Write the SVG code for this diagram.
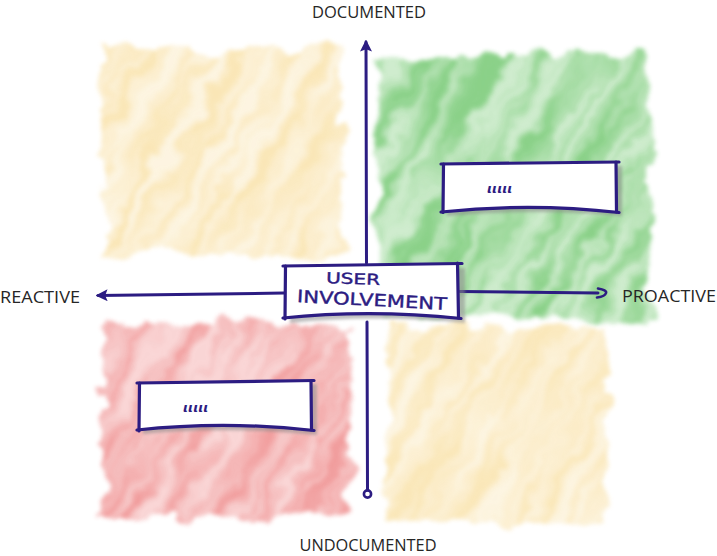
<svg xmlns="http://www.w3.org/2000/svg" width="717" height="556" viewBox="0 0 717 556">
  <defs>
    <filter id="edge" x="-15%" y="-15%" width="130%" height="130%">
      <feTurbulence type="fractalNoise" baseFrequency="0.03" numOctaves="4" seed="5" result="n"/>
      <feDisplacementMap in="SourceGraphic" in2="n" scale="30" xChannelSelector="R" yChannelSelector="G" result="d"/>
      <feGaussianBlur in="d" stdDeviation="2.2"/>
    </filter>
    <filter id="streak" x="0" y="0" width="100%" height="100%">
      <feTurbulence type="fractalNoise" baseFrequency="0.006 0.07" numOctaves="3" seed="9" result="t"/>
      <feColorMatrix in="t" type="matrix" values="0 0 0 0 0  0 0 0 0 0  0 0 0 0 0  2.4 0 0 0 -0.75" result="a"/>
      <feComposite in="SourceGraphic" in2="a" operator="in" result="s"/>
      <feComponentTransfer in="SourceGraphic" result="base">
        <feFuncA type="linear" slope="0.42"/>
      </feComponentTransfer>
      <feMerge>
        <feMergeNode in="base"/>
        <feMergeNode in="s"/>
      </feMerge>
    </filter>
    <filter id="sh" x="-10%" y="-20%" width="120%" height="140%">
      <feGaussianBlur stdDeviation="1.8"/>
    </filter>
    <clipPath id="cTL"><rect x="102" y="50" width="240" height="204"/></clipPath>
    <clipPath id="cTR"><rect x="378" y="56" width="270" height="262"/></clipPath>
    <clipPath id="cBL"><rect x="102" y="324" width="248" height="192"/></clipPath>
    <clipPath id="cBR"><rect x="386" y="326" width="222" height="196"/></clipPath>
    <marker id="arrowTip" viewBox="0 0 10 10" refX="8" refY="5" markerWidth="4" markerHeight="4" orient="auto">
      <path d="M10,5 L0,0 L2,5 L0,10 Z" fill="#2c1c82"/>
    </marker>
    <style>
      .ink{stroke:#2c1c82;stroke-linecap:round;fill:none}
      .axis{stroke-width:3}
      .edge{stroke-width:3.2}
      .lbl{font-family:"Open Sans","Liberation Sans",sans-serif;font-size:16px;fill:#262626;text-anchor:middle}
      .hand{font-family:"DejaVu Sans","Liberation Sans",sans-serif;fill:#2c1c82;stroke:#2c1c82;stroke-width:0.4}
      .dots{font-family:"DejaVu Sans",sans-serif;font-size:13px;font-style:italic;font-weight:bold;fill:#2c1c82}
      .shadow{fill:#8a8a8a;opacity:0.55}
    </style>
  </defs>

  <rect width="717" height="556" fill="#ffffff"/>

  <!-- painted quadrants -->
  <g id="quadrants">
    <g id="q-top-left" filter="url(#edge)" opacity="0.7">
      <g clip-path="url(#cTL)">
        <g transform="rotate(-60 222 152)">
          <rect x="52" y="-18" width="340" height="340" fill="#f8dc98" filter="url(#streak)"/>
        </g>
      </g>
    </g>
    <g id="q-top-right" filter="url(#edge)" opacity="0.95">
      <g clip-path="url(#cTR)">
        <g transform="rotate(-60 512 187)">
          <rect x="322" y="-3" width="380" height="380" fill="#84cf82" filter="url(#streak)"/>
        </g>
      </g>
    </g>
    <g id="q-bottom-left" filter="url(#edge)" opacity="0.92">
      <g clip-path="url(#cBL)">
        <g transform="rotate(-60 226 420)">
          <rect x="46" y="240" width="360" height="360" fill="#f09494" filter="url(#streak)"/>
        </g>
      </g>
    </g>
    <g id="q-bottom-right" filter="url(#edge)" opacity="0.68">
      <g clip-path="url(#cBR)">
        <g transform="rotate(-60 497 424)">
          <rect x="327" y="254" width="340" height="340" fill="#f8dc98" filter="url(#streak)"/>
        </g>
      </g>
    </g>
  </g>

  <!-- axes / connectors -->
  <g id="connectors">
    <path class="ink axis" d="M366.5,263 L366,42" marker-end="url(#arrowTip)"/>
    <path class="ink axis" d="M367,322 L367.5,490"/>
    <circle cx="367.5" cy="494" r="3.6" fill="none" stroke="#2c1c82" stroke-width="2.6"/>
    <path class="ink axis" d="M284,293 L98,295.5" marker-end="url(#arrowTip)"/>
    <path class="ink axis" d="M460,291.5 L598,293"/>
    <path d="M598,288.5 Q607,290 606,293 Q605,296.5 597,297.5" fill="none" stroke="#2c1c82" stroke-width="2.6" stroke-linecap="round"/>
  </g>

  <!-- centre node -->
  <g id="node-user-involvement">
    <path class="shadow" filter="url(#sh)" d="M290,270 L465,268 L465,323 Q375,314 290,323 Z"/>
    <path d="M285,266 L458,264 L458,317 Q370,309 285,318 Z" fill="#ffffff"/>
    <path class="ink edge" d="M283,266 L462,263.5"/>
    <path class="ink edge" d="M285.5,266 L285,319"/>
    <path class="ink edge" d="M457.5,263 L458.5,318"/>
    <path class="ink edge" d="M283,318 Q370,309 461,318.5"/>
    <text class="hand" x="353" y="284" font-size="15" text-anchor="middle" textLength="54" lengthAdjust="spacingAndGlyphs" transform="rotate(2 353 280)">USER</text>
    <text class="hand" x="372" y="306" font-size="17" text-anchor="middle" textLength="150" lengthAdjust="spacingAndGlyphs" transform="rotate(3 372 300)">INVOLVEMENT</text>
  </g>

  <!-- top-right node -->
  <g id="node-top-right">
    <path class="shadow" filter="url(#sh)" d="M447,168 L622,166 L622,216 Q530,208 447,216 Z"/>
    <path d="M443,164 L616,162 L616,211 Q530,204 443,212 Z" fill="#ffffff"/>
    <path class="ink edge" d="M441,164 L619,162"/>
    <path class="ink edge" d="M443.5,164 L443,212.5"/>
    <path class="ink edge" d="M616,162 L616.5,212"/>
    <path class="ink edge" d="M441,212 Q530,202.5 619,212.5"/>
    <text class="dots" x="487" y="193">ιιιιι</text>
  </g>

  <!-- bottom-left node -->
  <g id="node-bottom-left">
    <path class="shadow" filter="url(#sh)" d="M143,386 L317,384 L317,435 Q225,426 143,434 Z"/>
    <path d="M139,383 L311,381 L311,429 Q225,422 139,430 Z" fill="#ffffff"/>
    <path class="ink edge" d="M137,383 L314,380.5"/>
    <path class="ink edge" d="M139.5,383 L139,431"/>
    <path class="ink edge" d="M311,381 L311.5,430"/>
    <path class="ink edge" d="M137,430 Q225,420.5 314,430.5"/>
    <text class="dots" x="183" y="412">ιιιιι</text>
  </g>

  <!-- axis labels -->
  <g id="labels">
    <text class="lbl" x="369" y="18" textLength="114" lengthAdjust="spacingAndGlyphs">DOCUMENTED</text>
    <text class="lbl" x="368" y="551" textLength="137" lengthAdjust="spacingAndGlyphs">UNDOCUMENTED</text>
    <text class="lbl" x="40" y="303" textLength="80" lengthAdjust="spacingAndGlyphs">REACTIVE</text>
    <text class="lbl" x="669" y="302" textLength="94" lengthAdjust="spacingAndGlyphs">PROACTIVE</text>
  </g>
</svg>
